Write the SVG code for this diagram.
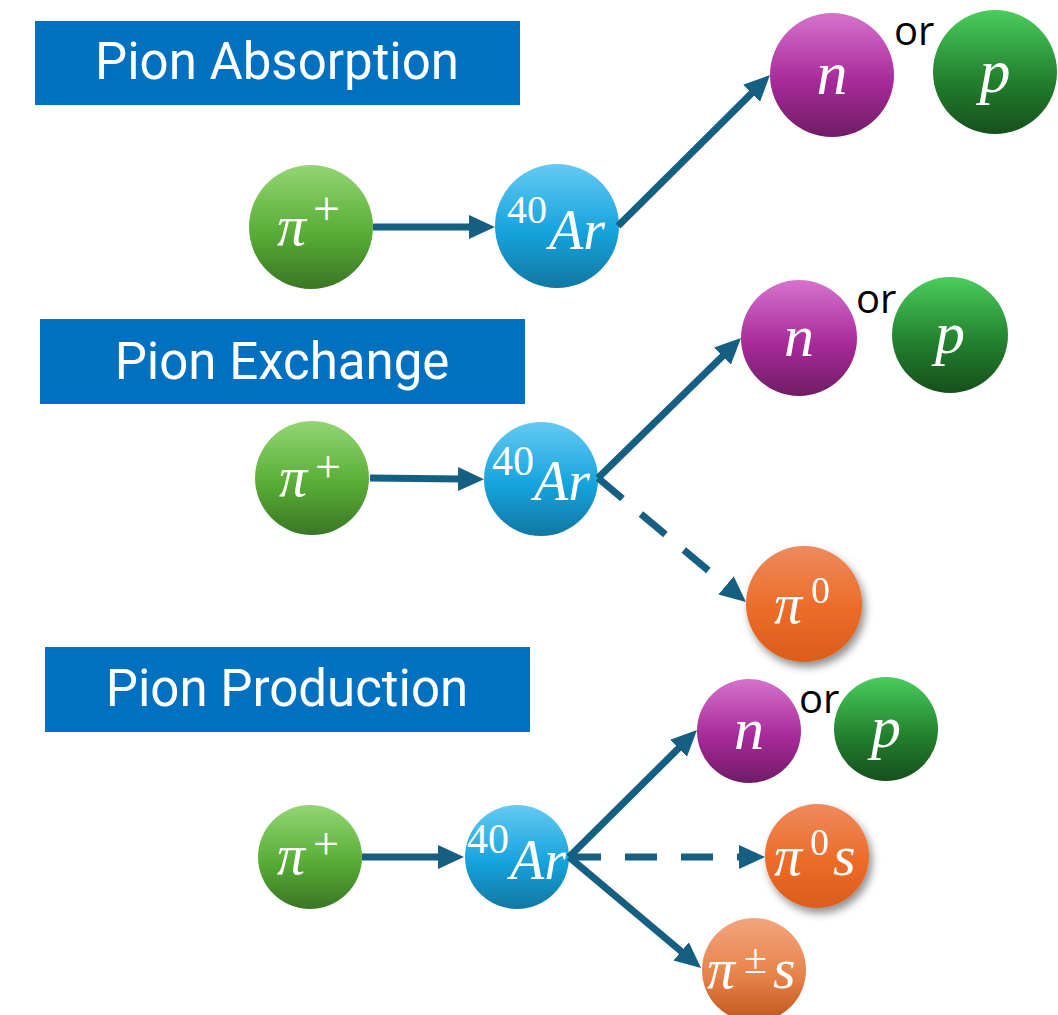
<svg xmlns="http://www.w3.org/2000/svg" width="1058" height="1015" viewBox="0 0 1058 1015">
  <defs>
    <linearGradient id="gPiPlus" x1="0" y1="0" x2="0" y2="1">
      <stop offset="0" stop-color="#93d673"/>
      <stop offset="0.55" stop-color="#58ad36"/>
      <stop offset="1" stop-color="#3a7624"/>
    </linearGradient>
    <linearGradient id="gAr" x1="0" y1="0" x2="0" y2="1">
      <stop offset="0" stop-color="#64caf3"/>
      <stop offset="0.55" stop-color="#15a3dc"/>
      <stop offset="1" stop-color="#1177a2"/>
    </linearGradient>
    <linearGradient id="gN" x1="0" y1="0" x2="0" y2="1">
      <stop offset="0" stop-color="#d673cd"/>
      <stop offset="0.55" stop-color="#a72a99"/>
      <stop offset="1" stop-color="#701c66"/>
    </linearGradient>
    <linearGradient id="gP" x1="0" y1="0" x2="0" y2="1">
      <stop offset="0" stop-color="#4acd5d"/>
      <stop offset="0.55" stop-color="#23822e"/>
      <stop offset="1" stop-color="#164f1d"/>
    </linearGradient>
    <linearGradient id="gPi0" x1="0" y1="0" x2="0" y2="1">
      <stop offset="0" stop-color="#ee8b5e"/>
      <stop offset="0.55" stop-color="#ec6b28"/>
      <stop offset="1" stop-color="#da5d1b"/>
    </linearGradient>
    <linearGradient id="gPiPm" x1="0" y1="0" x2="0" y2="1">
      <stop offset="0" stop-color="#f2a57f"/>
      <stop offset="0.55" stop-color="#e7834a"/>
      <stop offset="1" stop-color="#c0561e"/>
    </linearGradient>
    <filter id="shadow" x="-30%" y="-30%" width="170%" height="170%">
      <feDropShadow dx="3" dy="5" stdDeviation="4" flood-color="#000" flood-opacity="0.45"/>
    </filter>
    <marker id="head" markerUnits="userSpaceOnUse" markerWidth="30" markerHeight="28" viewBox="0 -14 30 28" refX="4" refY="0" orient="auto">
      <path d="M0,-12 L26,0 L0,12 z" fill="#155f82"/>
    </marker>
  </defs>
  <style>
    .box { fill: #0070c0; }
    .title { fill: #ffffff; font-family: Roboto, "Liberation Sans", sans-serif; font-size: 51px; text-anchor: middle; }
    .or { fill: #000000; font-family: "Open Sans", "Liberation Sans", sans-serif; font-size: 40px; }
    .m { fill: #ffffff; font-family: "Liberation Serif", serif; font-style: italic; }
    .u { fill: #ffffff; font-family: "Liberation Serif", serif; }
    .link { fill: none; stroke: #155f82; stroke-width: 7; marker-end: url(#head); }
    .dash { stroke-dasharray: 32 24; }
  </style>

  <!-- section headers -->
  <g id="hdr-absorption">
    <rect class="box" x="35" y="21" width="485" height="84"/>
    <text class="title" x="277" y="79">Pion Absorption</text>
  </g>
  <g id="hdr-exchange">
    <rect class="box" x="40" y="319" width="485" height="85"/>
    <text class="title" x="282" y="379">Pion Exchange</text>
  </g>
  <g id="hdr-production">
    <rect class="box" x="45" y="647" width="485" height="85"/>
    <text class="title" x="287" y="706">Pion Production</text>
  </g>

  <!-- absorption -->
  <g id="abs-piplus">
    <circle cx="311" cy="227" r="62" fill="url(#gPiPlus)"/>
    <text class="m" x="277" y="245" font-size="58">π</text>
    <text class="u" x="313" y="225" font-size="48">+</text>
  </g>
  <g id="abs-ar">
    <circle cx="557" cy="226" r="62" fill="url(#gAr)"/>
    <text class="u" x="507" y="223" font-size="40">40</text>
    <text class="m" x="549" y="249" font-size="56">Ar</text>
  </g>
  <g id="abs-or"><text class="or" x="894" y="45">or</text></g>
  <g id="abs-n">
    <circle cx="832" cy="75" r="62" fill="url(#gN)"/>
    <text class="m" x="832" y="94" font-size="62" text-anchor="middle">n</text>
  </g>
  <g id="abs-p">
    <circle cx="995" cy="72" r="62" fill="url(#gP)"/>
    <text class="m" x="995" y="92" font-size="62" text-anchor="middle">p</text>
  </g>

  <!-- exchange -->
  <g id="exc-piplus">
    <circle cx="312" cy="478" r="57" fill="url(#gPiPlus)"/>
    <text class="m" x="279" y="496" font-size="56">π</text>
    <text class="u" x="315" y="482" font-size="46">+</text>
  </g>
  <g id="exc-ar">
    <circle cx="541" cy="479" r="57" fill="url(#gAr)"/>
    <text class="u" x="492" y="475" font-size="42">40</text>
    <text class="m" x="534" y="500" font-size="56">Ar</text>
  </g>
  <g id="exc-or"><text class="or" x="856" y="313">or</text></g>
  <g id="exc-n">
    <circle cx="799" cy="338" r="58" fill="url(#gN)"/>
    <text class="m" x="799" y="356" font-size="60" text-anchor="middle">n</text>
  </g>
  <g id="exc-p">
    <circle cx="950" cy="335" r="58" fill="url(#gP)"/>
    <text class="m" x="950" y="353" font-size="60" text-anchor="middle">p</text>
  </g>
  <g id="exc-pi0" filter="url(#shadow)">
    <circle cx="804" cy="604" r="58" fill="url(#gPi0)"/>
    <text class="m" x="774" y="623" font-size="56">π</text>
    <text class="u" x="811" y="603" font-size="38">0</text>
  </g>

  <!-- production -->
  <g id="pro-piplus">
    <circle cx="310" cy="857" r="52" fill="url(#gPiPlus)"/>
    <text class="m" x="277" y="874" font-size="56">π</text>
    <text class="u" x="313" y="859" font-size="46">+</text>
  </g>
  <g id="pro-ar">
    <circle cx="517" cy="857" r="52" fill="url(#gAr)"/>
    <text class="u" x="467" y="853" font-size="42">40</text>
    <text class="m" x="510" y="879" font-size="56">Ar</text>
  </g>
  <g id="pro-or"><text class="or" x="799" y="713">or</text></g>
  <g id="pro-n">
    <circle cx="749" cy="731" r="52" fill="url(#gN)"/>
    <text class="m" x="749" y="749" font-size="60" text-anchor="middle">n</text>
  </g>
  <g id="pro-p">
    <circle cx="886" cy="729" r="52" fill="url(#gP)"/>
    <text class="m" x="886" y="747" font-size="60" text-anchor="middle">p</text>
  </g>
  <g id="pro-pi0s" filter="url(#shadow)">
    <circle cx="817" cy="856" r="52" fill="url(#gPi0)"/>
    <text class="m" x="774" y="875" font-size="56">π</text>
    <text class="u" x="810" y="855" font-size="38">0</text>
    <text class="m" x="833" y="875" font-size="58">s</text>
  </g>
  <g id="pro-pipms">
    <circle cx="754" cy="970" r="52" fill="url(#gPiPm)"/>
    <text class="m" x="707" y="988" font-size="56">π</text>
    <text class="u" x="744" y="973" font-size="42">±</text>
    <text class="m" x="773" y="988" font-size="58">s</text>
  </g>

  <!-- connectors -->
  <g id="connectors">
    <line class="link" x1="373" y1="227" x2="473" y2="227"/>
    <line class="link" x1="618" y1="226" x2="754.4" y2="90.5"/>

    <line class="link" x1="370" y1="478" x2="462" y2="479"/>
    <line class="link" x1="598" y1="478" x2="725.3" y2="353.4"/>
    <line class="link dash" x1="598" y1="478" x2="729.1" y2="587.9"/>

    <line class="link" x1="362" y1="857" x2="442" y2="857"/>
    <line class="link" x1="569" y1="857" x2="681.4" y2="745.5"/>
    <line class="link dash" x1="569" y1="857" x2="743" y2="857"/>
    <line class="link" x1="569" y1="857" x2="684.2" y2="953.9"/>
  </g>
</svg>
